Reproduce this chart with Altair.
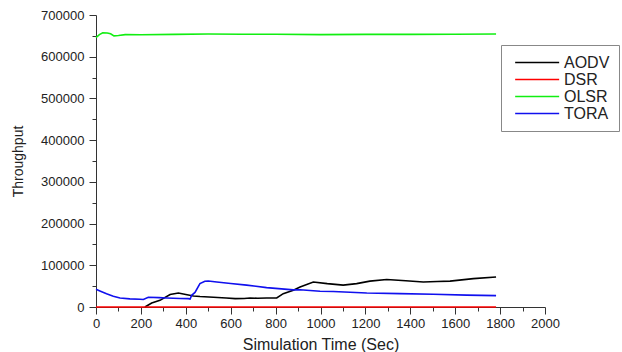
import altair as alt
import pandas as pd

series_names = ["AODV", "DSR", "OLSR", "TORA"]
series_colors = ["#000000", "#ff0000", "#11ee11", "#1010ee"]

aodv_t = [218, 248, 285, 330, 367, 400, 434, 463, 523, 580, 620, 660, 686, 720, 760, 805,
          834, 879, 909, 968, 1030, 1101, 1161, 1220, 1295, 1380, 1458, 1520, 1577, 1681, 1782]
aodv_v = [0, 9600, 16000, 30000, 33600, 30000, 26500, 25000, 23500, 21500, 20000, 20500, 21500,
          21000, 21500, 21500, 32000, 40000, 48000, 60000, 56000, 52500, 56000, 62000, 66000,
          63000, 60000, 61000, 62000, 68000, 72000]

dsr_t = [0, 300, 600, 900, 1200, 1500, 1782]
dsr_v = [0, 0, 0, 0, 0, 0, 0]

olsr_t = [0, 15, 30, 50, 65, 80, 100, 130, 200, 350, 500, 650, 800, 1000, 1200, 1400, 1600, 1782]
olsr_v = [646000, 653000, 657500, 657000, 655000, 650000, 651000, 653000, 652500, 653500,
          654500, 654000, 654000, 653000, 653500, 653500, 654000, 654500]

tora_t = [0, 20, 47, 77, 107, 151, 196, 211, 233, 280, 315, 374, 411, 419, 426, 441, 463, 485,
          500, 538, 600, 671, 760, 879, 909, 998, 1057, 1206, 1354, 1502, 1651, 1782]
tora_v = [42500, 38000, 32000, 26000, 21600, 19500, 18500, 18000, 23500, 22500, 21600, 20500,
          20000, 19000, 28000, 35000, 56000, 61600, 62400, 60000, 56500, 52500, 46500, 41000,
          41500, 37600, 37000, 33600, 32000, 30400, 28500, 27300]

x_major = list(range(0, 2001, 200))
x_minor = list(range(100, 2000, 200))
y_major = list(range(0, 700001, 100000))
y_minor = list(range(50000, 700000, 100000))

rows = []
for name, ts, vs in [("AODV", aodv_t, aodv_v), ("DSR", dsr_t, dsr_v),
                     ("OLSR", olsr_t, olsr_v), ("TORA", tora_t, tora_v)]:
    for i, (t, v) in enumerate(zip(ts, vs)):
        rows.append({"series": name, "t": t, "v": v, "order": i})
df = pd.DataFrame(rows)

FONT = "Liberation Sans"
xscale = alt.Scale(domain=[0, 2000], nice=False, zero=False)
yscale = alt.Scale(domain=[0, 700000], nice=False)

main = alt.Chart(df).mark_line(strokeWidth=1.6).encode(
    x=alt.X("t:Q", scale=xscale,
            axis=alt.Axis(orient="bottom", values=x_major, format="d", tickSize=7,
                          labelFontSize=13, labelFont=FONT, labelColor="#222", labelPadding=3,
                          title="Simulation Time (Sec)", titleFont=FONT, titleFontSize=16,
                          titleFontWeight="normal", titleColor="#222", titlePadding=6,
                          domainColor="#333", tickColor="#333", grid=False, labelFlush=False)),
    y=alt.Y("v:Q", scale=yscale,
            axis=alt.Axis(orient="left", values=y_major, format="d", tickSize=7, labelFontSize=13,
                          labelFont=FONT, labelColor="#222", labelPadding=5,
                          title="Throughput", titleFont=FONT, titleFontSize=14,
                          titleFontWeight="normal", titleColor="#222", titlePadding=15,
                          domainColor="#333", tickColor="#333", grid=False, labelFlush=False)),
    color=alt.Color("series:N", scale=alt.Scale(domain=series_names, range=series_colors),
                    legend=alt.Legend(orient="none", legendX=405, legendY=30, title=None,
                                      strokeColor="#888", fillColor="white", padding=9,
                                      symbolType="M-0.455,0H5.545", symbolSize=215,
                                      symbolStrokeWidth=1.5, labelFontSize=16, labelFont=FONT,
                                      labelColor="#222", labelOffset=37, rowPadding=0,
                                      labelExpr="datum.label + '\u00a0\u00a0'")),
    order="order:Q",
)

minor = alt.Chart(df).mark_line(opacity=0).encode(
    x=alt.X("t:Q", scale=xscale,
            axis=alt.Axis(orient="bottom", values=x_minor, tickSize=4, labels=False,
                          domain=False, title=None, tickColor="#333", grid=False)),
    y=alt.Y("v:Q", scale=yscale,
            axis=alt.Axis(orient="left", values=y_minor, tickSize=4, labels=False,
                          domain=False, title=None, tickColor="#333", grid=False)),
    detail="series:N",
    order="order:Q",
)

chart = alt.layer(main, minor).resolve_scale(x="independent", y="independent").resolve_axis(
    x="independent", y="independent"
).properties(
    width=449, height=292,
    autosize=alt.AutoSizeParams(type="none"),
    padding={"left": 96, "top": 15, "right": 77, "bottom": 45},
    background="white",
).configure_view(stroke=None)

chart.save("out.html", embed_options={"renderer": "svg", "actions": False})
